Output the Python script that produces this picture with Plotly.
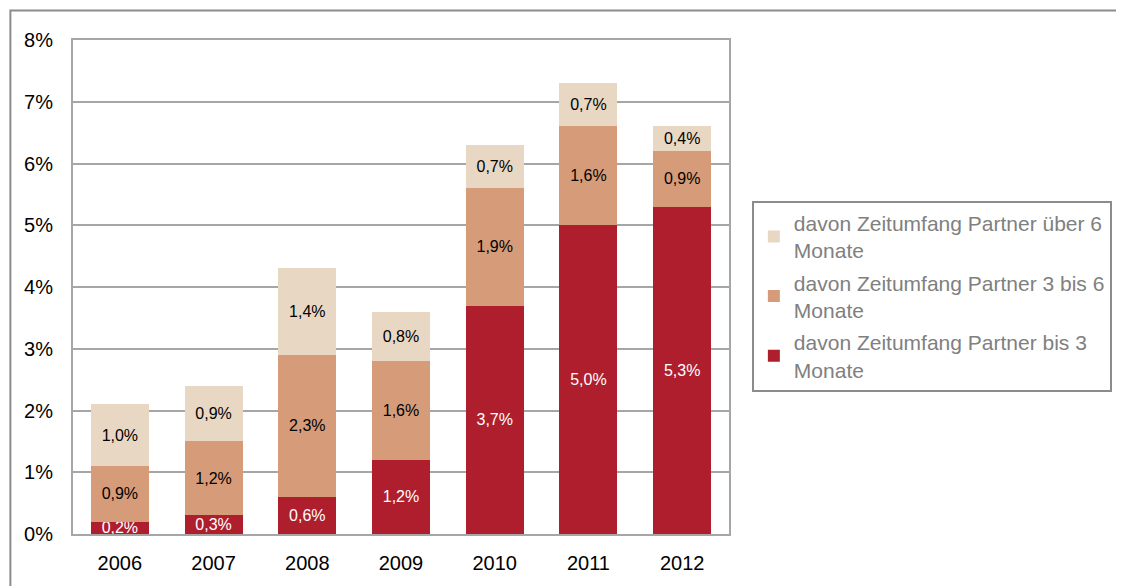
import plotly.graph_objects as go

years = ["2006", "2007", "2008", "2009", "2010", "2011", "2012"]
bis3 = [0.2, 0.3, 0.6, 1.2, 3.7, 5.0, 5.3]
drei_bis6 = [0.9, 1.2, 2.3, 1.6, 1.9, 1.6, 0.9]
ueber6 = [1.0, 0.9, 1.4, 0.8, 0.7, 0.7, 0.4]

names = [
    "davon Zeitumfang Partner bis 3<br>Monate",
    "davon Zeitumfang Partner 3 bis 6<br>Monate",
    "davon Zeitumfang Partner über 6<br>Monate",
]
colors = ["#AF1E2D", "#D69B78", "#E8D8C3"]
text_colors = ["white", "black", "black"]
ranks = [3, 2, 1]
series = [bis3, drei_bis6, ueber6]

FONT = "Liberation Sans, Arial, sans-serif"
fig = go.Figure()
for i, (vals, nm, col, tc, rk) in enumerate(zip(series, names, colors, text_colors, ranks)):
    fig.add_trace(go.Bar(
        x=years, y=vals, name=nm,
        marker=dict(color=col, line=dict(width=0)),
        texttemplate="%{y:.1f}%", textposition="inside",
        insidetextanchor="middle",
        textfont=dict(color=tc, size=16, family=FONT),
        legendgroup=str(i), legendrank=rk, hoverinfo="skip",
    ))

# page body has an 8px margin, so work in shifted pixel coordinates
OFF = 8
W, H = 1124 - OFF, 586 - OFF
L, R, T, B = 73 - OFF, 1124 - 733, 40 - OFF, 586 - 541
pw, ph = W - L - R, H - T - B

def px_x(p):
    return (p - OFF - L) / pw

def px_y(p):
    return (H - B - (p - OFF)) / ph

fig.update_layout(
    width=W, height=H,
    margin=dict(l=L, r=R, t=T, b=B),
    barmode="stack", bargap=0.38,
    separators=",.",
    plot_bgcolor="white", paper_bgcolor="white",
    font=dict(family=FONT, size=20, color="black"),
    uniformtext=dict(minsize=16, mode="show"),
    showlegend=True,
    legend=dict(
        x=px_x(756), y=px_y(203), xanchor="left", yanchor="top",
        traceorder="grouped", tracegroupgap=2,
        bordercolor="#8C8C8C", borderwidth=2,
        font=dict(size=21, color="#808080", family=FONT),
        itemwidth=30,
    ),
    xaxis=dict(
        showline=True, linecolor="#A6A6A6", linewidth=2, mirror=True,
        ticks="", tickfont=dict(size=20), ticklabelstandoff=10,
    ),
    yaxis=dict(
        range=[0, 8], dtick=1, ticksuffix="%",
        showgrid=True, gridcolor="#A6A6A6", gridwidth=1.5,
        showline=True, linecolor="#A6A6A6", linewidth=2, mirror=True,
        zeroline=False, ticks="", tickfont=dict(size=20), ticklabelstandoff=14,
    ),
    shapes=[dict(
        type="rect", xref="paper", yref="paper",
        x0=px_x(10), x1=px_x(1160), y0=px_y(620), y1=px_y(10),
        line=dict(color="#8C8C8C", width=2), layer="below",
    )],
)

fig.write_html("out.html")
